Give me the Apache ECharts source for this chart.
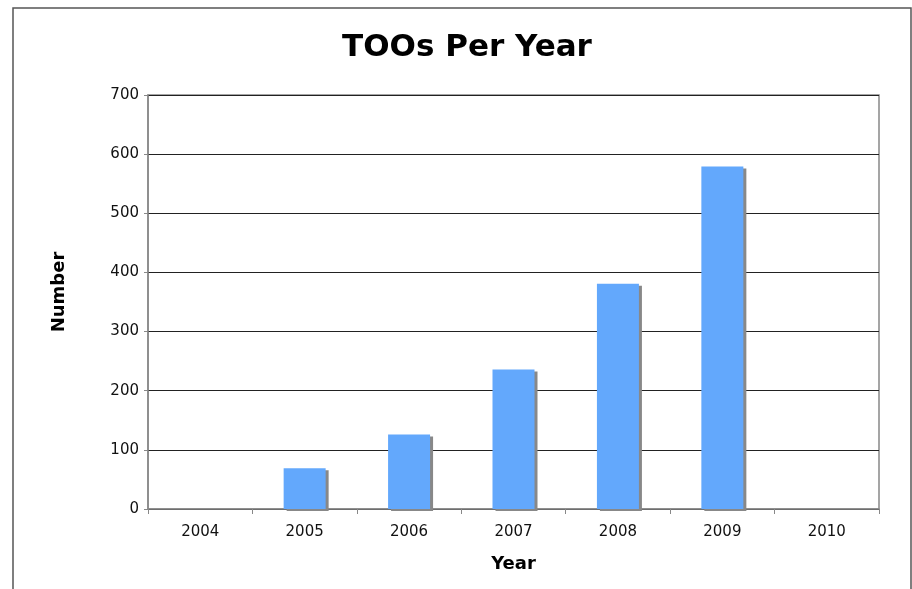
<!DOCTYPE html>
<html>
<head>
    <meta charset="utf-8">
    <title>TOOs Per Year</title>
    <script src="https://cdn.jsdelivr.net/npm/echarts@6/dist/echarts.min.js"></script>
</head>
<body style="margin:0;background:#fff;">
<div id="main" style="width:912px;height:589px;"></div>
<script type="text/javascript">
    // data
    var years = ['2004', '2005', '2006', '2007', '2008', '2009', '2010'];
    var toos = [0, 69, 126, 236, 381, 579, 0];
    var yTicks = [0, 700, 100]; // min, max, interval

    var myChart = echarts.init(document.getElementById('main'));
    var font = 'DejaVu Sans, Verdana, sans-serif';

    myChart.setOption({
        backgroundColor: '#fff',
        animation: false,
        graphic: [{
            type: 'rect',
            shape: {x: 13, y: 8, width: 898, height: 620},
            style: {fill: 'none', stroke: '#555', lineWidth: 1.5}
        }],
        title: {
            text: 'TOOs Per Year',
            left: 462,
            top: 27,
            textAlign: 'center',
            textStyle: {fontFamily: font, fontSize: 31, fontWeight: 'bold', color: '#000'}
        },
        grid: {
            left: 148, right: 33, top: 95, bottom: 80,
            show: true, borderColor: '#888', borderWidth: 1.5
        },
        xAxis: {
            type: 'category',
            data: years,
            name: 'Year',
            nameLocation: 'middle',
            nameGap: 46,
            nameTextStyle: {fontFamily: font, fontSize: 18, fontWeight: 'bold', color: '#000'},
            axisLine: {lineStyle: {color: '#888', width: 1.5}},
            axisTick: {show: true, length: 5, lineStyle: {color: '#888'}},
            axisLabel: {fontFamily: font, fontSize: 15, color: '#111', margin: 16}
        },
        yAxis: {
            type: 'value',
            min: yTicks[0],
            max: yTicks[1],
            interval: yTicks[2],
            name: 'Number',
            nameLocation: 'middle',
            nameGap: 80,
            nameTextStyle: {fontFamily: font, fontSize: 18, fontWeight: 'bold', color: '#000', padding: [0, 0, 0, 20]},
            axisLine: {show: true, lineStyle: {color: '#888', width: 1.5}},
            axisTick: {show: true, length: 4, lineStyle: {color: '#888'}},
            axisLabel: {fontFamily: font, fontSize: 15, color: '#111', margin: 9},
            splitLine: {lineStyle: {color: '#222', width: 1.2}}
        },
        series: [{
            type: 'bar',
            data: toos,
            barWidth: 42,
            itemStyle: {
                color: '#63a8fc',
                shadowColor: '#888',
                shadowOffsetX: 3,
                shadowOffsetY: 2,
                shadowBlur: 0
            }
        }]
    });
</script>
</body>
</html>
